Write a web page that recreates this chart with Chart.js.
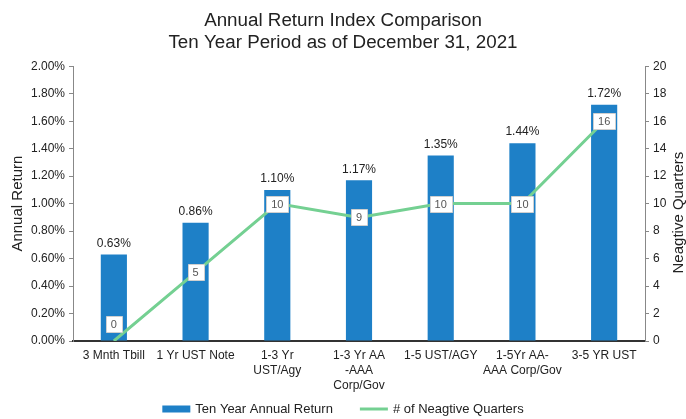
<!DOCTYPE html>
<html>
<head>
<meta charset="utf-8">
<script src="https://cdn.jsdelivr.net/npm/chart.js@4"></script>
<style>
  html, body { margin: 0; padding: 0; background: #fff; }
  #wrap { width: 686px; height: 419px; }
</style>
</head>
<body>
<div id="wrap"><canvas id="chart"></canvas></div>
<script>
const categories = [
  '3 Mnth Tbill',
  '1 Yr UST Note',
  ['1-3 Yr', 'UST/Agy'],
  ['1-3 Yr AA', '-AAA', 'Corp/Gov'],
  '1-5 UST/AGY',
  ['1-5Yr AA-', 'AAA Corp/Gov'],
  '3-5 YR UST'
];
const annualReturn = [0.63, 0.86, 1.10, 1.17, 1.35, 1.44, 1.72];
const negativeQuarters = [0, 5, 10, 9, 10, 10, 16];

const barColor = '#1e80c7';
const lineColor = '#74d092';
const font = "'Liberation Sans', Arial, sans-serif";

// value labels: percent above bars, boxed counts on the line
const valueLabels = {
  id: 'valueLabels',
  afterDatasetsDraw(chart) {
    const c = chart.ctx;
    const bottom = chart.chartArea.bottom;
    c.save();
    c.textAlign = 'center';
    c.textBaseline = 'middle';

    chart.getDatasetMeta(0).data.forEach(function (bar, i) {
      c.font = '12px ' + font;
      c.fillStyle = '#222';
      c.fillText(annualReturn[i].toFixed(2) + '%', bar.x, bar.y - 11);
    });

    chart.getDatasetMeta(1).data.forEach(function (pt, i) {
      const txt = String(negativeQuarters[i]);
      c.font = '11px ' + font;
      const w = c.measureText(txt).width + 10;
      const h = 16;
      const y = Math.min(pt.y, bottom - 17);
      c.fillStyle = '#fff';
      c.strokeStyle = '#d0d0d0';
      c.lineWidth = 1;
      c.beginPath();
      c.rect(Math.round(pt.x - w / 2) + 0.5, Math.round(y - h / 2) + 0.5, Math.round(w), h);
      c.fill();
      c.stroke();
      c.fillStyle = '#555';
      c.fillText(txt, pt.x, y + 1);
    });
    c.restore();
  }
};

// legend under the axis labels + right axis title reading bottom-to-top
const extras = {
  id: 'extras',
  afterDraw(chart) {
    const c = chart.ctx;
    const sw = 28, gap = 5, spacing = 27;
    const y = chart.height - 10;
    c.save();
    c.font = '13px ' + font;
    c.textBaseline = 'middle';
    c.textAlign = 'left';
    const items = chart.data.datasets.map(function (ds) {
      return { text: ds.label, type: ds.type, color: ds.backgroundColor, w: c.measureText(ds.label).width };
    });
    let total = 0;
    items.forEach(function (it) { total += sw + gap + it.w; });
    total += spacing * (items.length - 1);
    let x = (chart.width - total) / 2;
    items.forEach(function (it) {
      if (it.type === 'bar') {
        c.fillStyle = it.color;
        c.fillRect(x, y - 3.5, sw, 7);
      } else {
        c.strokeStyle = it.color;
        c.lineWidth = 3;
        c.beginPath();
        c.moveTo(x, y);
        c.lineTo(x + sw, y);
        c.stroke();
      }
      c.fillStyle = '#222';
      c.fillText(it.text, x + sw + gap, y);
      x += sw + gap + it.w + spacing;
    });

    const a = chart.chartArea;
    c.translate(chart.width - 7, (a.top + a.bottom) / 2 + 9);
    c.rotate(-Math.PI / 2);
    c.textAlign = 'center';
    c.font = '15px ' + font;
    c.fillText('Neagtive Quarters', 0, 0);
    c.restore();
  }
};

new Chart(document.getElementById('chart'), {
  data: {
    labels: categories,
    datasets: [
      {
        type: 'bar',
        label: 'Ten Year Annual Return',
        data: annualReturn,
        backgroundColor: barColor,
        yAxisID: 'y',
        barPercentage: 0.32,
        categoryPercentage: 1,
        order: 2
      },
      {
        type: 'line',
        label: '# of Neagtive Quarters',
        data: negativeQuarters,
        borderColor: lineColor,
        backgroundColor: lineColor,
        borderWidth: 3,
        pointRadius: 0,
        tension: 0,
        yAxisID: 'y1',
        order: 1
      }
    ]
  },
  options: {
    responsive: true,
    maintainAspectRatio: false,
    animation: false,
    layout: { padding: { left: 0, right: 0, top: 0, bottom: 27 } },
    plugins: {
      title: {
        display: true,
        text: ['Annual Return Index Comparison', 'Ten Year Period as of December 31, 2021'],
        color: '#222',
        font: { family: font, size: 18.8, weight: 'normal', lineHeight: 1.15 },
        padding: { top: 10, bottom: 13 }
      },
      legend: { display: false },
      tooltip: { enabled: false }
    },
    scales: {
      x: {
        afterFit: function (s) { s.height = 51; },
        grid: { drawOnChartArea: false, drawTicks: false, color: '#444' },
        border: { color: '#333', width: 2 },
        ticks: { color: '#222', font: { family: font, size: 12, lineHeight: 1.25 }, maxRotation: 0, autoSkip: false, padding: 7 }
      },
      y: {
        position: 'left',
        min: 0,
        max: 2,
        afterFit: function (s) { s.width = 73; },
        grid: { drawOnChartArea: false, tickLength: 4, color: '#888' },
        border: { color: '#888' },
        ticks: {
          stepSize: 0.2,
          color: '#222',
          font: { family: font, size: 12 },
          padding: 4,
          callback: function (v) { return v.toFixed(2) + '%'; }
        },
        title: { display: true, text: 'Annual Return', color: '#222', font: { family: font, size: 15, lineHeight: 1.2 }, padding: { top: 9, bottom: 0 } }
      },
      y1: {
        position: 'right',
        min: 0,
        max: 20,
        afterFit: function (s) { s.width = 41; },
        grid: { drawOnChartArea: false, tickLength: 4, color: '#888' },
        border: { color: '#888' },
        ticks: { stepSize: 2, color: '#222', font: { family: font, size: 12 }, padding: 4 }
      }
    }
  },
  plugins: [valueLabels, extras]
});
</script>
</body>
</html>
